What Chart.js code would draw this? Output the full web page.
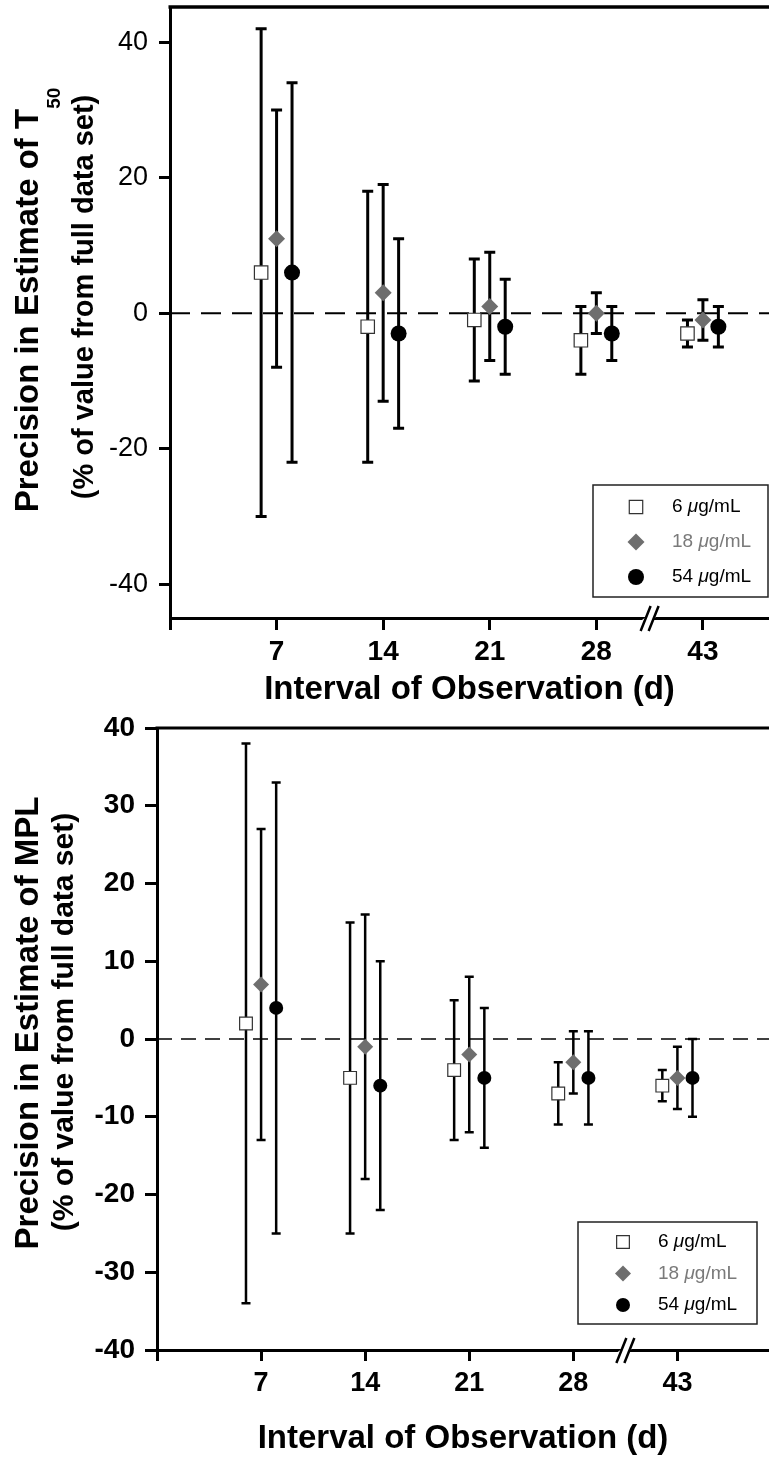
<!DOCTYPE html>
<html>
<head>
<meta charset="utf-8">
<script src="https://cdn.jsdelivr.net/npm/chart.js@4.4.1/dist/chart.umd.min.js"></script>
<style>
    html, body { margin: 0; padding: 0; background: #fff; }
    #wrap { position: relative; width: 769px; height: 1463px; overflow: hidden; }
    canvas { position: absolute; left: 0; }
    #t50 { top: 0; }
    #mpl { top: 700px; }
</style>
</head>
<body>
<div id="wrap">
    <canvas id="t50" width="769" height="720"></canvas>
    <canvas id="mpl" width="769" height="763"></canvas>
</div>
<script>
// interval of observation (d)
const days = ['7', '14', '21', '28', '43'];
const doses = ['6', '18', '54'];

// T50 panel (% of value from full data set)
const t50Dose6 = [6, -2, -1, -4, -3];
const t50Dose6Lo = [-30, -22, -10, -9, -5];
const t50Dose6Hi = [42, 18, 8, 1, -1];
const t50Dose18 = [11, 3, 1, 0, -1];
const t50Dose18Lo = [-8, -13, -7, -3, -4];
const t50Dose18Hi = [30, 19, 9, 3, 2];
const t50Dose54 = [6, -3, -2, -3, -2];
const t50Dose54Lo = [-22, -17, -9, -7, -5];
const t50Dose54Hi = [34, 11, 5, 1, 1];

// MPL panel (% of value from full data set)
const mplDose6 = [2, -5, -4, -7, -6];
const mplDose6Lo = [-34, -25, -13, -11, -8];
const mplDose6Hi = [38, 15, 5, -3, -4];
const mplDose18 = [7, -1, -2, -3, -5];
const mplDose18Lo = [-13, -18, -12, -7, -9];
const mplDose18Hi = [27, 16, 8, 1, -1];
const mplDose54 = [4, -6, -5, -5, -5];
const mplDose54Lo = [-25, -22, -14, -11, -10];
const mplDose54Hi = [33, 10, 4, 1, 0];

const t50Ticks = [-40, -20, 0, 20, 40];
const mplTicks = [-40, -30, -20, -10, 0, 10, 20, 30, 40];

const FONT = '"Liberation Sans", Arial, Helvetica, sans-serif';
const seriesShift = [-0.145, 0, 0.145];
const breakAt = 4.5;

function points(mean, lo, hi, k) {
    return days.map((d, i) => ({x: i + 1 + seriesShift[k], y: mean[i], lo: lo[i], hi: hi[i]}));
}

function makeDatasets(sets, radii) {
    return [
        {label: doses[0], data: points(...sets[0], 0), pointStyle: 'rect', pointRadius: radii[0],
            backgroundColor: '#fff', borderColor: '#333', borderWidth: 1.2},
        {label: doses[1], data: points(...sets[1], 1), pointStyle: 'rectRot', pointRadius: radii[1],
            backgroundColor: '#6e6e6e', borderColor: '#6e6e6e', borderWidth: 0},
        {label: doses[2], data: points(...sets[2], 2), pointStyle: 'circle', pointRadius: radii[2],
            backgroundColor: '#000', borderColor: '#000', borderWidth: 0}
    ];
}

function errorBars(width, cap) {
    return {
        id: 'errorBars',
        beforeDatasetsDraw(chart) {
            const {ctx, scales: {x, y}} = chart;
            ctx.save();
            ctx.strokeStyle = '#000';
            ctx.lineWidth = width;
            chart.data.datasets.forEach(ds => {
                ds.data.forEach(p => {
                    const px = x.getPixelForValue(p.x);
                    const top = y.getPixelForValue(p.hi);
                    const bot = y.getPixelForValue(p.lo);
                    ctx.beginPath();
                    ctx.moveTo(px, top); ctx.lineTo(px, bot);
                    ctx.moveTo(px - cap, top); ctx.lineTo(px + cap, top);
                    ctx.moveTo(px - cap, bot); ctx.lineTo(px + cap, bot);
                    ctx.stroke();
                });
            });
            ctx.restore();
        }
    };
}

function zeroLine(width, dash) {
    return {
        id: 'zeroLine',
        beforeDatasetsDraw(chart) {
            const {ctx, chartArea, scales: {y}} = chart;
            const py = y.getPixelForValue(0);
            ctx.save();
            ctx.strokeStyle = '#000';
            ctx.lineWidth = width;
            ctx.setLineDash(dash);
            ctx.beginPath();
            ctx.moveTo(chartArea.left, py);
            ctx.lineTo(chartArea.right, py);
            ctx.stroke();
            ctx.restore();
        }
    };
}

function frame(width) {
    return {
        id: 'frame',
        afterDatasetsDraw(chart) {
            const {ctx, chartArea, scales: {x}} = chart;
            ctx.save();
            ctx.strokeStyle = '#000';
            ctx.lineWidth = width;
            ctx.beginPath();
            ctx.moveTo(chartArea.left - 1.5, chartArea.top);
            ctx.lineTo(chartArea.right, chartArea.top);
            ctx.stroke();
            // axis break marker
            const bx = x.getPixelForValue(breakAt);
            const by = chartArea.bottom;
            ctx.fillStyle = '#fff';
            ctx.beginPath();
            ctx.moveTo(bx - 9, by + 3); ctx.lineTo(bx + 1, by + 3);
            ctx.lineTo(bx + 9, by - 3); ctx.lineTo(bx - 1, by - 3);
            ctx.closePath();
            ctx.fill();
            ctx.lineWidth = 2.5;
            ctx.beginPath();
            [-4, 4].forEach(dx => {
                ctx.moveTo(bx + dx - 5, by + 13);
                ctx.lineTo(bx + dx + 5, by - 12);
            });
            ctx.stroke();
            ctx.restore();
        }
    };
}

function concLegend(o) {
    return {
        id: 'concLegend',
        afterDatasetsDraw(chart) {
            const {ctx, chartArea} = chart;
            const x0 = chartArea.right - o.right - o.width;
            const y0 = chartArea.bottom - o.bottom - o.height;
            ctx.save();
            ctx.fillStyle = '#fff';
            ctx.fillRect(x0, y0, o.width, o.height);
            ctx.lineWidth = 1.5;
            ctx.strokeStyle = '#222';
            ctx.strokeRect(x0, y0, o.width, o.height);
            chart.data.datasets.forEach((ds, i) => {
                const cx = x0 + o.symbolX;
                const cy = y0 + o.firstRow + i * o.rowGap;
                const r = o.radius[i];
                ctx.fillStyle = ds.backgroundColor;
                ctx.strokeStyle = ds.borderColor;
                ctx.lineWidth = ds.borderWidth;
                ctx.beginPath();
                if (ds.pointStyle === 'rect') {
                    const s = r * Math.SQRT1_2;
                    ctx.rect(cx - s, cy - s, 2 * s, 2 * s);
                } else if (ds.pointStyle === 'rectRot') {
                    ctx.moveTo(cx - r, cy); ctx.lineTo(cx, cy - r);
                    ctx.lineTo(cx + r, cy); ctx.lineTo(cx, cy + r);
                    ctx.closePath();
                } else {
                    ctx.arc(cx, cy, r, 0, Math.PI * 2);
                }
                ctx.fill();
                if (ds.borderWidth > 0) ctx.stroke();

                let tx = x0 + o.textX;
                ctx.fillStyle = o.textColors[i];
                ctx.textAlign = 'left';
                ctx.textBaseline = 'middle';
                const plain = `${o.size}px ${FONT}`;
                const ital = `italic ${o.size}px ${FONT}`;
                ctx.font = plain;
                ctx.fillText(doses[i] + ' ', tx, cy);
                tx += ctx.measureText(doses[i] + ' ').width;
                ctx.font = ital;
                ctx.fillText('\u03bc', tx, cy);
                tx += ctx.measureText('\u03bc').width;
                ctx.font = plain;
                ctx.fillText('g/mL', tx, cy);
            });
            ctx.restore();
        }
    };
}

function yTitle(lines) {
    return {
        id: 'yTitle',
        afterDraw(chart) {
            const {ctx} = chart;
            lines.forEach(line => {
                ctx.save();
                ctx.translate(line.x, line.y);
                ctx.rotate(-Math.PI / 2);
                ctx.fillStyle = '#000';
                ctx.textAlign = 'left';
                ctx.textBaseline = 'alphabetic';
                ctx.font = line.font;
                const w = ctx.measureText(line.text).width;
                let sw = 0;
                if (line.sub) {
                    ctx.font = line.subFont;
                    sw = ctx.measureText(line.sub).width;
                }
                const start = -(w + sw) / 2;
                ctx.font = line.font;
                ctx.fillText(line.text, start, 0);
                if (line.sub) {
                    ctx.font = line.subFont;
                    ctx.fillText(line.sub, start + w, line.subShift);
                }
                ctx.restore();
            });
        }
    };
}

function buildScales(o) {
    const xPositions = [0, ...days.map((d, i) => i + 1)];
    return {
        x: {
            type: 'linear',
            min: 0,
            max: o.xMax,
            afterBuildTicks: s => { s.ticks = xPositions.map(v => ({value: v})); },
            afterFit: s => { s.height = o.xHeight; s.paddingLeft = 0; s.paddingRight = 0; },
            grid: {display: true, drawOnChartArea: false, drawTicks: true,
                tickLength: o.xTickLen, tickWidth: o.axisWidth, tickColor: '#000', color: '#000'},
            border: {display: true, color: '#000', width: o.axisWidth},
            ticks: {
                color: '#000', padding: o.xPad, autoSkip: false, maxRotation: 0,
                font: {family: FONT, size: o.xTickSize, weight: 'bold'},
                callback: v => (v === 0 ? '' : days[v - 1])
            },
            title: {
                display: true, text: 'Interval of Observation (d)', color: '#000',
                font: {family: FONT, size: 33, weight: 'bold'},
                padding: {top: 0, bottom: o.titlePad}
            }
        },
        y: {
            min: o.yMin,
            max: o.yMax,
            afterBuildTicks: s => { s.ticks = o.yTicks.map(v => ({value: v})); },
            afterFit: s => { s.width = o.yWidth; s.paddingTop = 0; s.paddingBottom = 0; },
            grid: {display: true, drawOnChartArea: false, drawTicks: true,
                tickLength: o.yTickLen, tickWidth: o.axisWidth, tickColor: '#000', color: '#000'},
            border: {display: true, color: '#000', width: o.axisWidth},
            ticks: {
                color: '#000', padding: o.yPad, autoSkip: false,
                font: {family: FONT, size: o.yTickSize, weight: o.yTickWeight}
            }
        }
    };
}

function drawPanel(canvasId, datasets, scaleOpts, padTop, plugins) {
    const ctx = document.getElementById(canvasId);
    return new Chart(ctx, {
        type: 'scatter',
        data: {datasets: datasets},
        options: {
            responsive: false,
            animation: false,
            devicePixelRatio: 1,
            events: [],
            layout: {autoPadding: false, padding: {top: padTop, right: 0, bottom: 0, left: 0}},
            plugins: {legend: {display: false}, tooltip: {enabled: false}},
            scales: buildScales(scaleOpts)
        },
        plugins: plugins
    });
}

const t50Chart = drawPanel('t50',
    makeDatasets([
        [t50Dose6, t50Dose6Lo, t50Dose6Hi],
        [t50Dose18, t50Dose18Lo, t50Dose18Hi],
        [t50Dose54, t50Dose54Lo, t50Dose54Hi]
    ], [9.5, 8.5, 8]),
    {xMax: 5.62, xHeight: 102, xTickLen: 12, xPad: 5, xTickSize: 28, titlePad: 10,
        yMin: -45, yMax: 45.2, yTicks: t50Ticks, yWidth: 170, yTickLen: 11, yPad: 11,
        yTickSize: 27, yTickWeight: 'normal', axisWidth: 3},
    7,
    [zeroLine(2, [20, 11]), errorBars(3, 5.5), frame(3.5),
        concLegend({right: 1, bottom: 21, width: 175, height: 112, symbolX: 43, textX: 79,
            firstRow: 22, rowGap: 35, radius: [9.5, 8.5, 8], size: 19,
            textColors: ['#000', '#7a7a7a', '#000']}),
        yTitle([
            {text: 'Precision in Estimate of T', sub: '50', x: 38, y: 300,
                font: `bold 33px ${FONT}`, subFont: `bold 19px ${FONT}`, subShift: 22},
            {text: '(% of value from full data set)', x: 93, y: 297, font: `bold 29px ${FONT}`}
        ])]
);

const mplChart = drawPanel('mpl',
    makeDatasets([
        [mplDose6, mplDose6Lo, mplDose6Hi],
        [mplDose18, mplDose18Lo, mplDose18Hi],
        [mplDose54, mplDose54Lo, mplDose54Hi]
    ], [9, 8, 7]),
    {xMax: 5.88, xHeight: 113, xTickLen: 11, xPad: 6, xTickSize: 27, titlePad: 4,
        yMin: -40, yMax: 40, yTicks: mplTicks, yWidth: 157, yTickLen: 12, yPad: 10,
        yTickSize: 28, yTickWeight: 'bold', axisWidth: 3},
    28,
    [zeroLine(1.5, [15, 9]), errorBars(2.5, 4.5), frame(3),
        concLegend({right: 12, bottom: 26, width: 179, height: 102, symbolX: 45, textX: 80,
            firstRow: 20, rowGap: 31.5, radius: [9, 8, 7], size: 19,
            textColors: ['#000', '#7a7a7a', '#000']}),
        yTitle([
            {text: 'Precision in Estimate of MPL', x: 38, y: 323, font: `bold 33px ${FONT}`},
            {text: '(% of value from full data set)', x: 73, y: 322, font: `bold 30px ${FONT}`}
        ])]
);
</script>
</body>
</html>
